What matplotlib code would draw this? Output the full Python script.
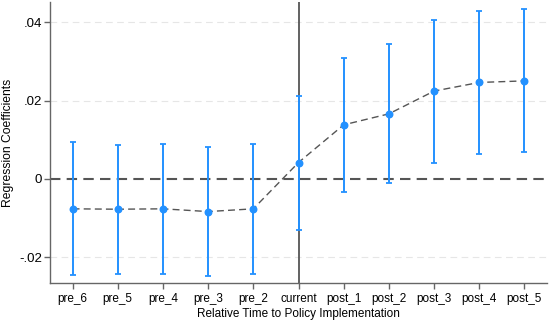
import matplotlib
matplotlib.use("Agg")
import matplotlib.pyplot as plt

labels = ["pre_6", "pre_5", "pre_4", "pre_3", "pre_2", "current",
          "post_1", "post_2", "post_3", "post_4", "post_5"]
coef = [-0.0076, -0.0077, -0.0076, -0.0083, -0.0076, 0.0042,
        0.0138, 0.0166, 0.0224, 0.0246, 0.0250]
ci_low = [-0.0245, -0.0242, -0.0242, -0.0248, -0.0242, -0.0130,
          -0.0032, -0.0011, 0.0042, 0.0064, 0.0070]
ci_high = [0.0094, 0.0087, 0.0089, 0.0082, 0.0090, 0.0212,
           0.0308, 0.0343, 0.0406, 0.0428, 0.0432]
yticks = [-0.02, 0, 0.02, 0.04]
yticklabels = ["-.02", "0", ".02", ".04"]

plt.rcParams['font.family'] = ['Liberation Sans', 'DejaVu Sans']

fig = plt.figure(figsize=(5.5, 3.23), dpi=100)
ax = fig.add_axes([50/550, 40/323, 497/550, 281/323])

x = list(range(len(labels)))
blue = "#2391ff"

for yv in [-0.02, 0.02, 0.04]:
    ax.axhline(yv, color="#e6e6e6", lw=0.8, ls=(0, (6, 4)), zorder=0)
ax.axhline(0, color="#555555", lw=1.5, ls=(0, (5, 3)), zorder=1)
ax.axvline(5, color="#555555", lw=1.3, zorder=1)

ax.vlines(x, ci_low, ci_high, color=blue, lw=1.4, zorder=2)
ax.scatter(x, ci_low, marker="_", s=14, color=blue, linewidths=1.3, zorder=2)
ax.scatter(x, ci_high, marker="_", s=14, color=blue, linewidths=1.3, zorder=2)
ax.plot(x, coef, color="#555555", lw=1.0, ls=(0, (5, 3)), zorder=3)
ax.scatter(x, coef, color=blue, s=22, zorder=4)

ax.set_xlim(-0.5, 10.5)
ax.set_ylim(-0.0265, 0.0451)
ax.set_xticks(x)
ax.set_xticklabels(labels, fontsize=8.5)
ax.set_yticks(yticks)
ax.set_yticklabels(yticklabels, fontsize=9.5)
ax.set_xlabel("Relative Time to Policy Implementation", fontsize=8.5, labelpad=2)
ax.set_ylabel("Regression Coefficients", fontsize=8.7)
ax.yaxis.set_label_coords(-0.072, 0.5)

for s in ["top", "right"]:
    ax.spines[s].set_visible(False)
for s in ["left", "bottom"]:
    ax.spines[s].set_color("#666666")
    ax.spines[s].set_linewidth(1.0)
ax.tick_params(axis="both", direction="out", length=4, color="#666666", width=1.0, pad=3)
ax.tick_params(axis="y", pad=1.5)

fig.savefig("out.png", dpi=100)
